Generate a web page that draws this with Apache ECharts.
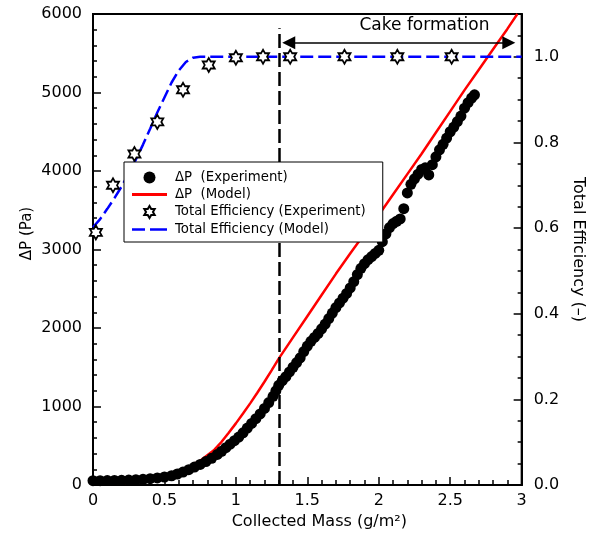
<!DOCTYPE html>
<html><head><meta charset="utf-8">
<script src="https://cdn.jsdelivr.net/npm/echarts@6/dist/echarts.min.js"></script>
<style>html,body{margin:0;padding:0;background:#fff}#c{width:594px;height:538px}</style>
</head><body><div id="c"></div>
<script>
// ΔP experiment (collected mass g/m², pressure drop Pa)
const dpExpMass = [0.00,0.05,0.10,0.15,0.20,0.25,0.30,0.35,0.40,0.45,0.50,0.55,0.59,0.63,0.67,0.71,0.75,0.79,0.83,0.87,0.90,0.93,0.96,0.99,1.02,1.05,1.08,1.11,1.14,1.17,1.20,1.23,1.26,1.28,1.30,1.325,1.35,1.375,1.40,1.425,1.45,1.475,1.50,1.525,1.55,1.575,1.60,1.625,1.65,1.675,1.70,1.725,1.75,1.775,1.80,1.825,1.85,1.875,1.90,1.925,1.95,1.975,2.00,2.025,2.05,2.075,2.10,2.125,2.15,2.175,2.20,2.225,2.25,2.275,2.30,2.325,2.35,2.375,2.40,2.425,2.45,2.475,2.50,2.525,2.55,2.575,2.60,2.625,2.65,2.67];
const dpExp = [55,55,56,58,60,63,67,72,80,90,102,118,140,165,195,228,262,298,340,390,430,475,520,565,610,665,725,785,845,905,975,1050,1130,1200,1270,1330,1380,1440,1500,1560,1620,1700,1770,1830,1880,1930,1990,2050,2120,2190,2260,2320,2380,2440,2510,2590,2680,2760,2820,2870,2910,2950,2990,3100,3200,3280,3330,3360,3390,3520,3720,3830,3900,3960,4020,4040,3950,4080,4180,4270,4340,4420,4500,4560,4630,4700,4800,4870,4930,4970];
// ΔP model
const dpModelMass = [0.00,0.10,0.20,0.30,0.40,0.50,0.55,0.60,0.65,0.70,0.75,0.80,0.85,0.90,0.95,1.00,1.05,1.10,1.15,1.20,1.25,1.30,1.40,1.50,1.60,1.70,1.80,1.90,2.00,2.10,2.20,2.30,2.40,2.50,2.60,2.70,2.80,2.90,2.97];
const dpModel = [25,25,27,32,50,85,115,155,210,260,310,380,450,550,665,785,910,1040,1175,1315,1460,1610,1880,2150,2420,2690,2950,3200,3440,3700,3960,4220,4490,4760,5030,5290,5550,5810,6000];
// Total efficiency experiment
const effExpMass = [0.02,0.14,0.29,0.45,0.63,0.81,1.00,1.19,1.38,1.76,2.13,2.51];
const effExp = [0.590,0.700,0.773,0.848,0.923,0.981,0.998,1.0,1.0,1.0,1.0,1.0];
// Total efficiency model
const effModelMass = [0.00,0.05,0.10,0.15,0.20,0.25,0.30,0.35,0.40,0.45,0.50,0.55,0.60,0.65,0.70,0.75,3.00];
const effModel = [0.602,0.621,0.645,0.670,0.697,0.727,0.760,0.795,0.832,0.870,0.905,0.940,0.968,0.988,0.998,1.0,1.0];
// Annotations
const cakeStart = 1.3, cakeLineTop = 5820;
const arrowFrom = [1.37, 5635], arrowTo = [2.91, 5635];
const cakeLabelAt = [2.32, 5850];
const cakeLabel = 'Cake formation';
const names = ['ΔP  (Experiment)','ΔP  (Model)','Total Efficiency (Experiment)','Total Efficiency (Model)'];

const zip = (a,b) => a.map((v,i)=>[v,b[i]]);
const FONT = 'DejaVu Sans';
const hexStar = 'path://M10,0L12.887,5L18.66,5L15.77,10L18.66,15L12.887,15L10,20L7.113,15L1.34,15L4.23,10L1.34,5L7.113,5Z';
const solidIcon = 'path://M0,0L0.01,0L0.01,12L0,12Z M0,4.6L35,4.6L35,7.4L0,7.4Z';
const dashIcon = 'path://M0,0L0.01,0L0.01,12L0,12Z M0,4.7L13,4.7L13,7.3L0,7.3Z M18,4.7L35,4.7L35,7.3L18,7.3Z';

const chart = echarts.init(document.getElementById('c'), null, {renderer:'canvas'});
const axisCommon = {
  axisLine:{show:true,onZero:false,lineStyle:{color:'#000',width:2}},
  axisTick:{show:true,inside:true,length:8,lineStyle:{color:'#000',width:1.5}},
  splitLine:{show:false},
  axisLabel:{color:'#000',fontFamily:FONT,fontSize:16},
  nameTextStyle:{color:'#000',fontFamily:FONT,fontSize:16}
};
chart.setOption({
  animation:false,
  backgroundColor:'#fff',
  textStyle:{fontFamily:FONT},
  grid:{left:93,right:72,top:14,bottom:53,show:true,borderColor:'#000',borderWidth:2,backgroundColor:'transparent'},
  legend:{
    z:20,
    data:[
      {name:names[0], icon:'circle'},
      {name:names[1], icon:solidIcon},
      {name:names[2]},
      {name:names[3], icon:dashIcon}
    ],
    orient:'vertical', left:124, top:162,
    padding:[9,17,6,8], itemWidth:35, itemHeight:12, itemGap:4,
    borderColor:'#000', borderWidth:1, backgroundColor:'#fff',
    textStyle:{fontFamily:FONT,fontSize:13.3,color:'#000',padding:[0,0,0,3]}
  },
  xAxis:Object.assign({}, axisCommon, {
    type:'value', min:0, max:3, interval:0.5,
    minorTick:{show:true,splitNumber:5,length:5,lineStyle:{color:'#000',width:1.5}},
    axisLabel:Object.assign({}, axisCommon.axisLabel, {margin:8}),
    name:'Collected Mass (g/m²)', nameLocation:'middle', nameGap:28,
    nameTextStyle:Object.assign({}, axisCommon.nameTextStyle, {padding:[0,0,0,24]})
  }),
  yAxis:[
    Object.assign({}, axisCommon, {
      type:'value', min:0, max:6000, interval:1000, position:'left',
      minorTick:{show:true,splitNumber:5,length:4,lineStyle:{color:'#000',width:1.5}},
      axisLabel:Object.assign({}, axisCommon.axisLabel, {margin:11, formatter:v=>String(v)}),
      name:'ΔP (Pa)', nameLocation:'middle', nameGap:58, nameRotate:90, nameMoveOverlap:false,
      nameTextStyle:Object.assign({}, axisCommon.nameTextStyle, {fontSize:15,padding:[0,0,0,32]})
    }),
    Object.assign({}, axisCommon, {
      type:'value', min:0, max:1.1, interval:0.2, position:'right',
      minorTick:{show:true,splitNumber:4,length:4,lineStyle:{color:'#000',width:1.5}},
      axisLabel:Object.assign({}, axisCommon.axisLabel, {margin:12,showMaxLabel:false,formatter:v=>v.toFixed(1)}),
      name:'Total Efficiency (–)', nameLocation:'middle', nameGap:48, nameRotate:-90
    })
  ],
  series:[
    {name:names[1], type:'line', yAxisIndex:0, data:zip(dpModelMass,dpModel), symbol:'none', smooth:false,
     lineStyle:{color:'#ff0000',width:2.5}, itemStyle:{color:'#ff0000'}, z:2},
    {name:names[0], type:'scatter', yAxisIndex:0, data:zip(dpExpMass,dpExp), symbol:'circle', symbolSize:11,
     itemStyle:{color:'#000',opacity:1}, z:3,
     markLine:{silent:true, animation:false, label:{show:false},
       data:[
         [{coord:[cakeStart,0],symbol:'none'},{coord:[cakeStart,cakeLineTop],symbol:'none',
           lineStyle:{color:'#000',width:2.5,type:[14,5]}}],
         [{coord:arrowFrom,symbol:'triangle',symbolSize:[13,13]},{coord:arrowTo,symbol:'triangle',symbolSize:[13,13],
           lineStyle:{color:'#000',width:1.5,type:'solid'}}]
       ]},
     markPoint:{silent:true, animation:false,
       data:[{coord:cakeLabelAt, symbol:'circle', symbolSize:0, itemStyle:{color:'transparent'},
         label:{show:true,position:'inside',formatter:cakeLabel,color:'#000',fontFamily:FONT,fontSize:17}}]}
    },
    {name:names[3], type:'line', yAxisIndex:1, data:zip(effModelMass,effModel), symbol:'none',
     lineStyle:{color:'#0000ff',width:2.5,type:[13,5]}, itemStyle:{color:'#0000ff'}, z:4},
    {name:names[2], type:'scatter', yAxisIndex:1, data:zip(effExpMass,effExp), symbol:hexStar, symbolSize:[12,14],
     itemStyle:{color:'#fff',borderColor:'#000',borderWidth:1.8,opacity:1}, z:5}
  ]
});
</script></body></html>
